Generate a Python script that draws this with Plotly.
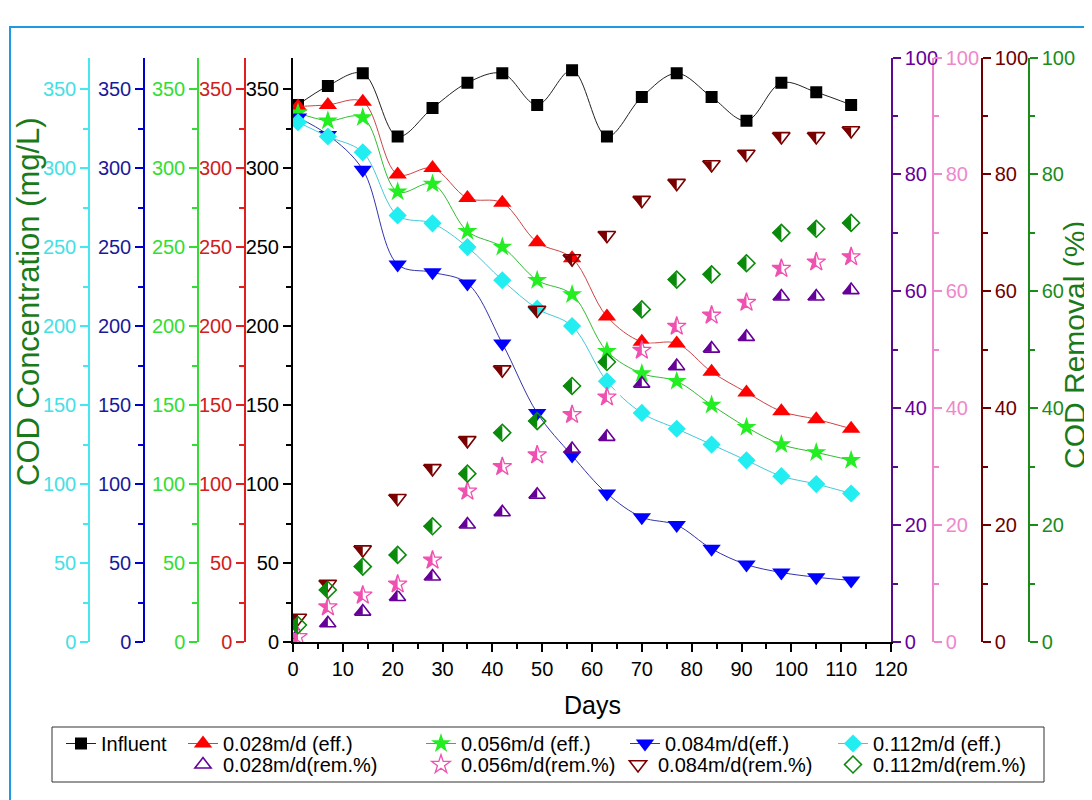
import plotly.graph_objects as go

# ---------------- data ----------------
days = [1, 7, 14, 21, 28, 35, 42, 49, 56, 63, 70, 77, 84, 91, 98, 105, 112]

influent = [340, 352, 360, 320, 338, 354, 360, 340, 362, 320, 345, 360, 345, 330, 354, 348, 340]
eff_028 = [339, 340, 342, 296, 300, 281, 278, 253, 243, 206, 190, 189, 171, 158, 146, 141, 135]
eff_056 = [335, 330, 332, 285, 290, 260, 250, 229, 220, 184, 170, 165, 150, 136, 125, 120, 115]
eff_084 = [332, 321, 299, 239, 234, 227, 189, 145, 118, 94, 79, 74, 59, 49, 44, 41, 39]
eff_112 = [329, 320, 310, 270, 265, 250, 229, 211, 200, 165, 145, 135, 125, 115, 105, 100, 94]

rem_028 = [1.2, 3.2, 5.2, 7.7, 11.2, 20.1, 22.2, 25.2, 33.0, 35.1, 44.2, 47.2, 50.2, 52.2, 59.1, 59.1, 60.2]
rem_056 = [0.9, 6.0, 8.0, 9.9, 14.0, 25.8, 30.0, 32.0, 38.9, 41.9, 49.9, 54.0, 55.9, 58.1, 63.9, 65.0, 65.9]
rem_084 = [4.1, 9.9, 15.8, 24.6, 29.7, 34.5, 46.6, 56.8, 65.6, 69.6, 75.6, 78.5, 81.7, 83.5, 86.5, 86.5, 87.5]
rem_112 = [2.9, 8.9, 12.9, 14.9, 19.8, 28.8, 35.8, 37.8, 43.8, 47.9, 56.9, 62.0, 62.9, 64.8, 70.0, 70.7, 71.7]

name_influent = "Influent"
names_eff = ["0.028m/d (eff.)", "0.056m/d (eff.)", "0.084m/d(eff.)", "0.112m/d (eff.)"]
names_rem = ["0.028m/d(rem.%)", "0.056m/d(rem.%)", "0.084m/d(rem.%)", "0.112m/d(rem.%)"]

conc_range = [0, 370]
rem_range = [0, 100]
x_range = [0, 120]

# ---------------- layout helpers ----------------
# the page body has an 8px margin, so the figure is sized to fill the rest of the window
OFF = 8
FW, FH = 1092 - OFF, 800 - OFF
FONT = "Arial, Liberation Sans, sans-serif"


def fx(p):
    return (p - OFF) / FW


def fy(p):
    return (FH - (p - OFF)) / FH


Y0, Y1 = fy(642), fy(57.5)
X0, X1 = fx(293), fx(891)

C_PURPLE = "#660099"
C_PINK = "#F050B0"
C_DRED = "#7A0000"
C_DGREEN = "#0A8A0A"

fig = go.Figure()

# influent + effluent
fig.add_trace(go.Scatter(
    x=days, y=influent, name=name_influent, mode="lines+markers", yaxis="y", legend="legend",
    line=dict(color="#222222", width=1, shape="spline"),
    marker=dict(symbol="square", size=12, color="black")))

eff_specs = [
    (eff_028, "y2", "triangle-up", 16, "#FF0000", "#CC4444", "legend2"),
    (eff_056, "y3", "star", 15, "#22EE22", "#33BB33", "legend3"),
    (eff_084, "y4", "triangle-down", 16, "#0000FF", "#3333AA", "legend4"),
    (eff_112, "y5", "diamond", 14, "#22EEF2", "#44C8D8", "legend5"),
]
for (vals, ax, sym, sz, mc, lc, lg), nm in zip(eff_specs, names_eff):
    fig.add_trace(go.Scatter(
        x=days, y=vals, name=nm, mode="lines+markers", yaxis=ax, legend=lg,
        line=dict(color=lc, width=1, shape="spline"),
        marker=dict(symbol=sym, size=sz, color=mc, line=dict(width=0))))

# removal series: half-filled markers built from a filled half + open outline

# 0.028 rem: triangle-up, left half filled
S = 14
r = S / 2
rp = 0.74 * r
fig.add_trace(go.Scatter(
    x=days, y=rem_028, yaxis="y6", mode="markers", showlegend=False, hoverinfo="skip",
    marker=dict(symbol="triangle-ne", size=2 * rp, color=C_PURPLE, angle=90, standoff=0.6 * rp,
                line=dict(width=0))))
fig.add_trace(go.Scatter(
    x=days, y=rem_028, yaxis="y6", mode="markers", name=names_rem[0], legend="legend6",
    marker=dict(symbol="triangle-up-open", size=S, color=C_PURPLE, line=dict(width=1.6, color=C_PURPLE))))

# 0.056 rem: star, left half filled (fill + white mask on right + outline)
S = 14
fig.add_trace(go.Scatter(
    x=days, y=rem_056, yaxis="y7", mode="markers", showlegend=False, hoverinfo="skip",
    marker=dict(symbol="star", size=S, color=C_PINK, line=dict(width=0))))
fig.add_trace(go.Scatter(
    x=days, y=rem_056, yaxis="y7", mode="markers", showlegend=False, hoverinfo="skip",
    marker=dict(symbol="square", size=S * 0.95, color="white", angle=-90, standoff=S * 0.475,
                line=dict(width=0))))
fig.add_trace(go.Scatter(
    x=days, y=rem_056, yaxis="y7", mode="markers", name=names_rem[1], legend="legend7",
    marker=dict(symbol="star-open", size=S, color=C_PINK, line=dict(width=1.3, color=C_PINK))))

# 0.084 rem: triangle-down, left half filled
S = 15
r = S / 2
rp = 0.74 * r
fig.add_trace(go.Scatter(
    x=days, y=rem_084, yaxis="y8", mode="markers", showlegend=False, hoverinfo="skip",
    marker=dict(symbol="triangle-nw", size=2 * rp, color=C_DRED, angle=90, standoff=0.6 * rp,
                line=dict(width=0))))
fig.add_trace(go.Scatter(
    x=days, y=rem_084, yaxis="y8", mode="markers", name=names_rem[2], legend="legend8",
    marker=dict(symbol="triangle-down-open", size=S, color=C_DRED, line=dict(width=1.6, color=C_DRED))))

# 0.112 rem: diamond, left half filled
S = 13
d = 1.3 * S / 2
rpp = d / 1.35
fig.add_trace(go.Scatter(
    x=days, y=rem_112, yaxis="y9", mode="markers", showlegend=False, hoverinfo="skip",
    marker=dict(symbol="triangle-down", size=2 * rpp, color=C_DGREEN, angle=90, standoff=rpp / 2,
                line=dict(width=0))))
fig.add_trace(go.Scatter(
    x=days, y=rem_112, yaxis="y9", mode="markers", name=names_rem[3], legend="legend9",
    marker=dict(symbol="diamond-open", size=S, color=C_DGREEN, line=dict(width=1.6, color=C_DGREEN))))


def yax(color, labelcolor, rng, dtick, mdtick, side, anchor, position=None, overlay=True, lw=1.5):
    ax = dict(range=rng, dtick=dtick, tick0=0, showgrid=False, zeroline=False, showline=True,
              linecolor=color, linewidth=lw, ticks="outside", ticklen=8, tickwidth=1.5, tickcolor=color,
              tickfont=dict(size=20, color=labelcolor, family=FONT), automargin=False,
              minor=dict(dtick=mdtick, tick0=0, ticks="outside", ticklen=5, tickwidth=1.5, tickcolor=color),
              side=side, fixedrange=True)
    if overlay:
        ax["overlaying"] = "y"
    else:
        ax["domain"] = [Y0, Y1]
    if anchor == "free":
        ax["anchor"] = "free"
        ax["position"] = position
    else:
        ax["anchor"] = anchor
    return ax


def leg(xpx, ypx):
    return dict(x=fx(xpx), y=fy(ypx), xanchor="left", yanchor="top", orientation="h",
                bgcolor="rgba(0,0,0,0)", borderwidth=0, font=dict(size=20, color="black"))


ROW1, ROW2 = 724, 745

fig.update_layout(
    width=FW, height=FH, autosize=False,
    margin=dict(l=0, r=0, t=0, b=0, pad=0, autoexpand=False),
    paper_bgcolor="white", plot_bgcolor="white",
    font=dict(family=FONT, size=20, color="black"),
    xaxis=dict(domain=[X0, X1], range=x_range, dtick=10, tick0=0, showgrid=False, zeroline=False,
               showline=True, linecolor="black", linewidth=2, ticks="outside", ticklen=8, tickwidth=1.5,
               tickcolor="black", tickfont=dict(size=20, color="black"), anchor="y", automargin=False,
               minor=dict(dtick=5, tick0=0, ticks="outside", ticklen=5, tickwidth=1.5, tickcolor="black"),
               fixedrange=True),
    yaxis=yax("black", "black", conc_range, 50, 25, "left", "x", overlay=False, lw=2),
    yaxis2=yax("#E02020", "#D02020", conc_range, 50, 25, "left", "free", fx(245)),
    yaxis3=yax("#33DD33", "#33DD33", conc_range, 50, 25, "left", "free", fx(198)),
    yaxis4=yax("#0000CC", "#1A1A99", conc_range, 50, 25, "left", "free", fx(144)),
    yaxis5=yax("#44E8EE", "#44E0E6", conc_range, 50, 25, "left", "free", fx(89)),
    yaxis6=yax("#5E0A90", C_PURPLE, rem_range, 20, 10, "right", "x"),
    yaxis7=yax("#EE88CC", "#EE88CC", rem_range, 20, 10, "right", "free", fx(933)),
    yaxis8=yax("#700000", "#700000", rem_range, 20, 10, "right", "free", fx(982)),
    yaxis9=yax("#1A8C1A", "#1A8C1A", rem_range, 20, 10, "right", "free", fx(1029)),
    legend=leg(61, ROW1),
    legend2=leg(183, ROW1),
    legend3=leg(421, ROW1),
    legend4=leg(625, ROW1),
    legend5=leg(833, ROW1),
    legend6=leg(183, ROW2),
    legend7=leg(421, ROW2),
    legend8=leg(618, ROW2),
    legend9=leg(833, ROW2),
    annotations=[
        dict(text="COD Concentration (mg/L)", x=fx(28), y=fy(302), xref="paper", yref="paper",
             textangle=-90, showarrow=False, xanchor="center", yanchor="middle",
             font=dict(size=31, color="#1A7A1A")),
        dict(text="COD Removal (%)", x=fx(1074), y=fy(345), xref="paper", yref="paper",
             textangle=-90, showarrow=False, xanchor="center", yanchor="middle",
             font=dict(size=30, color="#1A7A1A")),
        dict(text="Days", x=fx(592), y=fy(705), xref="paper", yref="paper",
             showarrow=False, xanchor="center", yanchor="middle",
             font=dict(size=25, color="black")),
    ],
    shapes=[
        dict(type="rect", xref="paper", yref="paper", x0=fx(52), x1=fx(1044), y0=fy(782), y1=fy(727),
             line=dict(color="#333333", width=1), fillcolor="rgba(0,0,0,0)", layer="below"),
        dict(type="rect", xref="paper", yref="paper", x0=fx(10), x1=1.05, y0=-0.05, y1=fy(27),
             line=dict(color="#1E9BE0", width=2), fillcolor="rgba(0,0,0,0)", layer="below"),
    ],
)

fig.write_html("out.html", config={"displayModeBar": False})
